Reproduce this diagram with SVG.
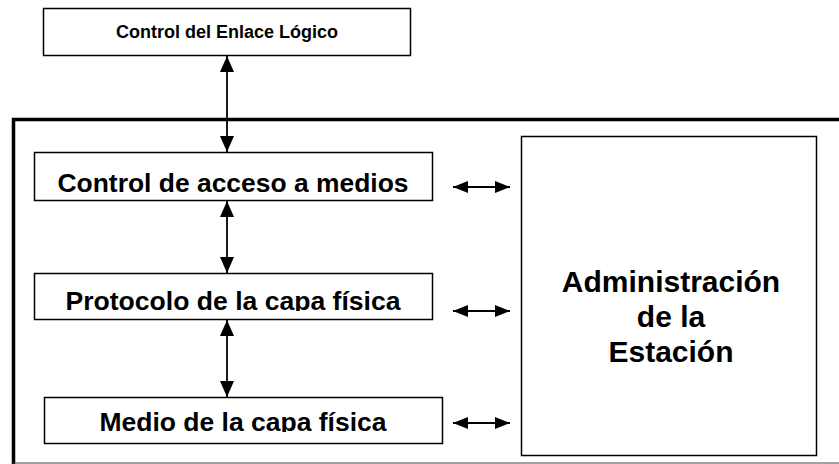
<svg xmlns="http://www.w3.org/2000/svg" width="839" height="464" viewBox="0 0 839 464">
<style>
.box{fill:#fff;stroke:#000;stroke-width:1.5}
.t{font-family:"Liberation Sans",Arial,sans-serif;font-weight:bold;fill:#000;text-anchor:middle}
.c{stroke:#000;stroke-width:1.8;fill:none}
</style>
<defs>
<marker id="av" viewBox="0 0 16 14" refX="16" refY="7" markerWidth="16" markerHeight="14" markerUnits="userSpaceOnUse" orient="auto-start-reverse"><path d="M0,0 L16,7 L0,14 Z" fill="#000"/></marker>
<marker id="ah" viewBox="0 0 15 12" refX="15" refY="6" markerWidth="15" markerHeight="12" markerUnits="userSpaceOnUse" orient="auto-start-reverse"><path d="M0,0 L15,6 L0,12 Z" fill="#000"/></marker>
<clipPath id="cp1"><rect x="34" y="273" width="399" height="38"/></clipPath>
<clipPath id="cp2"><rect x="44" y="397" width="399" height="35"/></clipPath>
</defs>
<rect width="839" height="464" fill="#fff"/>
<g id="frame">
<path d="M13.5,464 L13.5,119.5 L839,119.5" fill="none" stroke="#000" stroke-width="3.5"/>
<line x1="13" y1="463" x2="839" y2="463" stroke="#444" stroke-width="1.2"/>
</g>
<g id="connectors">
<line class="c" x1="227" y1="56" x2="227" y2="152" marker-start="url(#av)" marker-end="url(#av)"/>
<line class="c" x1="227" y1="201" x2="227" y2="273" marker-start="url(#av)" marker-end="url(#av)"/>
<line class="c" x1="227" y1="320" x2="227" y2="397" marker-start="url(#av)" marker-end="url(#av)"/>
<line class="c" x1="453" y1="187" x2="510" y2="187" marker-start="url(#ah)" marker-end="url(#ah)"/>
<line class="c" x1="453" y1="311" x2="510" y2="311" marker-start="url(#ah)" marker-end="url(#ah)"/>
<line class="c" x1="453" y1="423" x2="510" y2="423" marker-start="url(#ah)" marker-end="url(#ah)"/>
</g>
<g id="llc">
<rect class="box" x="43.5" y="8.5" width="367" height="47"/>
<text class="t" x="227" y="38" font-size="18">Control del Enlace Lógico</text>
</g>
<g id="mac">
<rect class="box" x="34.5" y="152.5" width="398" height="48"/>
<text class="t" x="233" y="192" font-size="25" textLength="351" lengthAdjust="spacingAndGlyphs">Control de acceso a medios</text>
</g>
<g id="phy-protocol">
<rect class="box" x="34.5" y="273.5" width="398" height="46"/>
<text class="t" x="233" y="310" font-size="25" textLength="335" lengthAdjust="spacingAndGlyphs" clip-path="url(#cp1)">Protocolo de la capa física</text>
</g>
<g id="phy-medium">
<rect class="box" x="44.5" y="397.5" width="398" height="46"/>
<text class="t" x="243" y="431" font-size="25" textLength="287" lengthAdjust="spacingAndGlyphs" clip-path="url(#cp2)">Medio de la capa física</text>
</g>
<g id="station-mgmt">
<rect class="box" x="521.5" y="136.5" width="295" height="319"/>
<text class="t" font-size="30"><tspan x="671" y="292">Administración</tspan><tspan x="671" y="327">de la</tspan><tspan x="671" y="362">Estación</tspan></text>
</g>
</svg>
